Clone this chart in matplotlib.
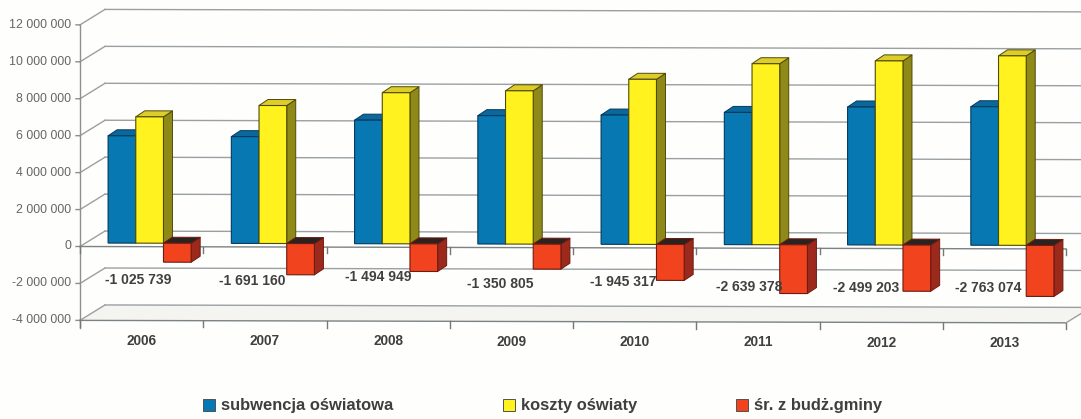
import matplotlib
matplotlib.use("Agg")
import matplotlib.pyplot as plt
from matplotlib.patches import Polygon, Rectangle
from matplotlib.transforms import Affine2D, IdentityTransform

plt.rcParams["font.family"] = ["Liberation Sans", "DejaVu Sans"]

years = ["2006", "2007", "2008", "2009", "2010", "2011", "2012", "2013"]
subwencja = [5810000, 5780000, 6690000, 6950000, 7000000, 7160000, 7470000, 7500000]
koszty = [6840000, 7470000, 8180000, 8300000, 8940000, 9800000, 9970000, 10260000]
z_budzetu = [-1025739, -1691160, -1494949, -1350805, -1945317, -2639378, -2499203, -2763074]
value_labels = ["-1 025 739", "-1 691 160", "-1 494 949", "-1 350 805",
                "-1 945 317", "-2 639 378", "-2 499 203", "-2 763 074"]
y_values = [12000000, 10000000, 8000000, 6000000, 4000000, 2000000, 0, -2000000, -4000000]
y_labels = ["12 000 000", "10 000 000", "8 000 000", "6 000 000", "4 000 000",
            "2 000 000", "0", "-2 000 000", "-4 000 000"]
series_names = ["subwencja oświatowa", "koszty oświaty", "śr. z budż.gminy"]

# Pixel placement of the value labels and legend entries
label_xy = [(138, 280), (252, 281), (378, 277), (500, 284),
            (623, 282), (749, 287), (866, 288), (988, 288)]
legend_x = [203, 503, 736]
legend_y = 405

W, H = 1081, 419
CAT_PX, X0 = 123.25, 80
MILLION_PX, Y0 = 18.47, 246.5
TILT = 0.0025
WALL = (25, 15.5)
BAR_FRONT = (8, 3.5)
BAR_DEPTH = (9, 6)
BAR_W = 0.2247

fig = plt.figure(figsize=(W / 100, H / 100), dpi=100, facecolor="#fefefd")
ax = fig.add_axes([0, 0, 1, 1])
ax.set_xlim(-X0 / CAT_PX, (W - X0) / CAT_PX)
ax.set_ylim((Y0 - H) / MILLION_PX * 1e6, Y0 / MILLION_PX * 1e6)
ax.set_autoscale_on(False)
ax.axis("off")

# The whole plot leans slightly clockwise, so everything goes through this shear
tilt = Affine2D.from_values(1, -TILT, 0, 1, 0, TILT * X0)


def offset(dx=0, dy=0):
    return ax.transData + Affine2D().translate(dx, dy) + tilt


def project(x, v, dx=0, dy=0):
    px, py = ax.transData.transform((x, v))
    return (px + dx, py + dy)


def face(points, color, z, edge="none", lw=0.0):
    ax.add_patch(Polygon(points, closed=True, facecolor=color, edgecolor=edge,
                         linewidth=lw, transform=tilt, zorder=z, joinstyle="round"))


GRID = "#9aa0a2"
AXIS = "#8f8f8b"
n = len(years)

# Floor of the box
face([project(0, -4e6), project(n, -4e6),
      project(n, -4e6, *WALL), project(0, -4e6, *WALL)],
     "#f4f4f1", 1)

# Back wall gridlines with their diagonals along the left wall
for v, text in zip(y_values, y_labels):
    ax.plot([0, n + 0.3], [v, v], color=GRID, lw=1.0, transform=offset(*WALL), zorder=2)
    p, q = project(0, v), project(0, v, *WALL)
    ax.plot([p[0], q[0]], [p[1], q[1]], color=GRID, lw=1.0, transform=tilt, zorder=2)
    r = project(-0.0325, v)
    ax.plot([r[0], p[0]], [r[1], p[1]], color=AXIS, lw=1.0, transform=tilt, zorder=3)
    ax.text(-9 / CAT_PX, v, text, ha="right", va="center",
            fontsize=8.9, color="#666666", transform=offset(), zorder=6)

# Front axis lines and their ticks
ax.plot([0, 0], [12e6, -4.4e6], color=AXIS, lw=1.0, transform=offset(), zorder=3)
for v, tick_end in [(0, -0.33e6), (-4e6, -4.36e6)]:
    ax.plot([0, n], [v, v], color="#7b8285", lw=1.0, transform=offset(), zorder=3)
    for i in range(n + 1):
        ax.plot([i, i], [v, tick_end], color="#777773", lw=1.0, transform=offset(), zorder=3)
a, b = project(n, -4e6), project(n, -4e6, *WALL)
ax.plot([a[0], b[0]], [a[1], b[1]], color=GRID, lw=1.0, transform=tilt, zorder=3)

# Three-dimensional bars, drawn left to right so nearer faces overlap correctly
styles = [
    ("#0878b3", "#0a689c", "#06507a", "#053a5c"),
    ("#fff21f", "#ddcd2a", "#8f8a18", "#4f4a08"),
    ("#f2431f", "#2b2320", "#9c2a1c", "#6e1a10"),
]
z = 10
for i in range(n):
    for s, values in enumerate([subwencja, koszty, z_budzetu]):
        front, top, side, edge = styles[s]
        x0 = i + 0.5 - 1.5 * BAR_W + s * BAR_W
        x1 = x0 + BAR_W
        v = values[i]
        upper = max(v, 0)
        f = BAR_FRONT
        back = (f[0] + BAR_DEPTH[0], f[1] + BAR_DEPTH[1])
        face([project(x1, 0, *f), project(x1, v, *f), project(x1, v, *back), project(x1, 0, *back)],
             side, z, edge, 0.7)
        face([project(x0, upper, *f), project(x1, upper, *f),
              project(x1, upper, *back), project(x0, upper, *back)], top, z + 0.1, edge, 0.7)
        ax.bar(x0, v, BAR_W, align="edge", color=front, edgecolor=edge, linewidth=0.8,
               transform=offset(*f), zorder=z + 0.2)
        z += 1

# Category names and value labels
for i, year in enumerate(years):
    ax.text(i + 0.5, -5.09e6, year, ha="center", va="center", fontsize=9.8,
            fontweight="bold", color="#3f3f3f", transform=offset(), zorder=60)
    lx, ly = label_xy[i]
    ax.text(lx, H - ly, value_labels[i], ha="center", va="center", fontsize=10,
            fontweight="bold", color="#404040", transform=IdentityTransform(), zorder=60)

# Legend row
for x, name, style in zip(legend_x, series_names, styles):
    fig.patches.append(Rectangle((x, H - legend_y - 6), 12, 12, facecolor=style[0],
                                 edgecolor="#505050", linewidth=0.7,
                                 transform=IdentityTransform(), figure=fig))
    ax.text(x + 18, H - legend_y, name, ha="left", va="center", fontsize=11.9,
            fontweight="bold", color="#3f3f3f", transform=IdentityTransform(), zorder=60)

fig.savefig("out.png", dpi=100, facecolor=fig.get_facecolor())
